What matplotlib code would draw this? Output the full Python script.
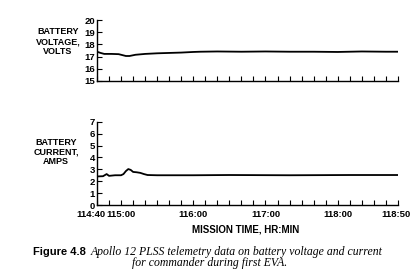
import matplotlib
matplotlib.use("Agg")
import matplotlib.pyplot as plt
import matplotlib.transforms as mtrans

# mission time in minutes after 114:00
volt_t = [40, 43, 46, 52, 58, 62, 64, 67, 72, 80, 90, 100, 110, 120, 126, 140, 160, 180, 200, 220, 240, 260, 280, 290]
volt_v = [17.4, 17.3, 17.22, 17.22, 17.2, 17.1, 17.05, 17.05, 17.15, 17.22, 17.27, 17.3, 17.33, 17.38, 17.4,
          17.42, 17.4, 17.42, 17.4, 17.4, 17.38, 17.42, 17.4, 17.4]

curr_t = [40, 45, 48, 50, 55, 60, 62, 64, 66, 68, 70, 73, 76, 79, 82, 90, 120, 150, 200, 250, 290]
curr_a = [2.4, 2.42, 2.6, 2.45, 2.5, 2.5, 2.6, 2.85, 3.02, 2.95, 2.78, 2.75, 2.7, 2.6, 2.52, 2.5, 2.5,
          2.52, 2.5, 2.52, 2.52]

x_ticks = list(range(40, 291, 10))
x_labels = {40: "114:40", 60: "115:00", 120: "116:00", 180: "117:00", 240: "118:00", 290: "118:50"}
volt_ticks = [15, 16, 17, 18, 19, 20]
curr_ticks = [0, 1, 2, 3, 4, 5, 6, 7]

sans = "Liberation Sans"
fig = plt.figure(figsize=(4.11, 2.79), dpi=100)

ax1 = fig.add_axes([0.236, 0.7097, 0.732, 0.2186])
ax2 = fig.add_axes([0.236, 0.2652, 0.732, 0.2986])

ax1.plot(volt_t, volt_v, color="black", lw=1.3)
ax2.plot(curr_t, curr_a, color="black", lw=1.3)

for ax in (ax1, ax2):
    ax.set_xlim(40, 290)
    ax.set_xticks(x_ticks)
    ax.spines["top"].set_visible(False)
    ax.spines["right"].set_visible(False)
    ax.spines["left"].set_linewidth(1.0)
    ax.spines["bottom"].set_linewidth(1.0)
    ax.tick_params(direction="in", length=3.5, width=0.8, pad=1.5, labelsize=6.8)

ax1.set_ylim(15, 20)
ax1.set_yticks(volt_ticks)
ax1.set_xticklabels([])
ax2.set_ylim(0, 7)
ax2.set_yticks(curr_ticks)
ax2.set_xticklabels([x_labels.get(t, "") for t in x_ticks])
ax2.tick_params(axis="x", pad=3.5)

for ax in (ax1, ax2):
    for lab in ax.get_xticklabels() + ax.get_yticklabels():
        lab.set_fontfamily(sans)
        lab.set_fontweight("bold")

# first and last time labels sit a little off their ticks in the original
xl = ax2.get_xticklabels()
xl[0].set_transform(xl[0].get_transform() + mtrans.ScaledTranslation(-6 / 100, 0, fig.dpi_scale_trans))
xl[-1].set_transform(xl[-1].get_transform() + mtrans.ScaledTranslation(-2 / 100, 0, fig.dpi_scale_trans))

fig.text(0.141, 0.851, "BATTERY\nVOLTAGE,\nVOLTS", ha="center", va="center", fontsize=6.5,
         fontweight="bold", family=sans, linespacing=1.1)
fig.text(0.136, 0.455, "BATTERY\nCURRENT,\nAMPS", ha="center", va="center", fontsize=6.5,
         fontweight="bold", family=sans, linespacing=1.1)
fig.text(0.598, 0.179, "MISSION TIME, HR:MIN", ha="center", va="center", fontsize=7,
         fontweight="bold", family=sans)

fig.text(0.080, 0.095, "Figure 4.8", ha="left", va="center", fontsize=8, fontweight="bold", family=sans)
fig.text(0.221, 0.095, "Apollo 12 PLSS telemetry data on battery voltage and current", ha="left", va="center",
         fontsize=8.5, style="italic", family="Liberation Serif")
fig.text(0.511, 0.057, "for commander during first EVA.", ha="center", va="center",
         fontsize=8.5, style="italic", family="Liberation Serif")

fig.savefig("out.png", dpi=100)
